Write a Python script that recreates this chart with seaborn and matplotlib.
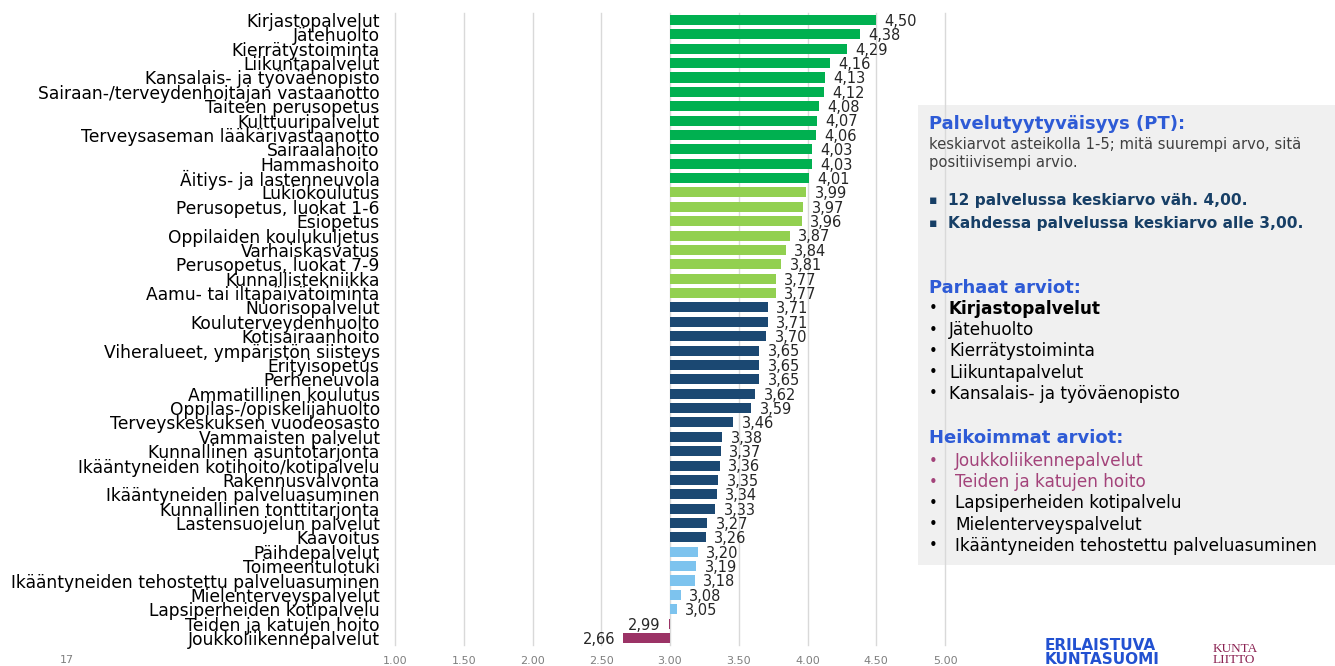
import numpy as np
import pandas as pd
import matplotlib
matplotlib.use("Agg")
import matplotlib.pyplot as plt
import seaborn as sns
from matplotlib.patches import Rectangle

# -----------------------------------------------------
# Data: palvelutyytyväisyys, keskiarvot asteikolla 1-5
# -----------------------------------------------------
services = [
    "Kirjastopalvelut", "Jätehuolto", "Kierrätystoiminta", "Liikuntapalvelut",
    "Kansalais- ja työväenopisto", "Sairaan-/terveydenhoitajan vastaanotto",
    "Taiteen perusopetus", "Kulttuuripalvelut", "Terveysaseman lääkärivastaanotto",
    "Sairaalahoito", "Hammashoito", "Äitiys- ja lastenneuvola",
    "Lukiokoulutus", "Perusopetus, luokat 1-6", "Esiopetus",
    "Oppilaiden koulukuljetus", "Varhaiskasvatus", "Perusopetus, luokat 7-9",
    "Kunnallistekniikka", "Aamu- tai iltapäivätoiminta",
    "Nuorisopalvelut", "Kouluterveydenhuolto", "Kotisairaanhoito",
    "Viheralueet, ympäristön siisteys", "Erityisopetus", "Perheneuvola",
    "Ammatillinen koulutus", "Oppilas-/opiskelijahuolto",
    "Terveyskeskuksen vuodeosasto", "Vammaisten palvelut",
    "Kunnallinen asuntotarjonta", "Ikääntyneiden kotihoito/kotipalvelu",
    "Rakennusvalvonta", "Ikääntyneiden palveluasuminen",
    "Kunnallinen tonttitarjonta", "Lastensuojelun palvelut", "Kaavoitus",
    "Päihdepalvelut", "Toimeentulotuki", "Ikääntyneiden tehostettu palveluasuminen",
    "Mielenterveyspalvelut", "Lapsiperheiden kotipalvelu",
    "Teiden ja katujen hoito", "Joukkoliikennepalvelut",
]
scores = [
    4.50, 4.38, 4.29, 4.16, 4.13, 4.12, 4.08, 4.07, 4.06, 4.03, 4.03, 4.01,
    3.99, 3.97, 3.96, 3.87, 3.84, 3.81, 3.77, 3.77,
    3.71, 3.71, 3.70, 3.65, 3.65, 3.65, 3.62, 3.59, 3.46, 3.38, 3.37, 3.36,
    3.35, 3.34, 3.33, 3.27, 3.26,
    3.20, 3.19, 3.18, 3.08, 3.05,
    2.99, 2.66,
]
groups = (["a"] * 12 + ["b"] * 8 + ["c"] * 17 + ["d"] * 5 + ["e"] * 2)
group_colors = {"a": "#00B050", "b": "#92D050", "c": "#1B4872",
                "d": "#7DC3EE", "e": "#9B3366"}
tick_values = [1.0, 1.5, 2.0, 2.5, 3.0, 3.5, 4.0, 4.5, 5.0]
base = 3.0

df = pd.DataFrame({"palvelu": services, "ka": scores, "ryhma": groups})
df["ero"] = df["ka"] - base

# -----------------------------------------------------
# Figure
# -----------------------------------------------------
W, H = 1335, 666
fig = plt.figure(figsize=(W / 100, H / 100), dpi=100)
fig.patch.set_facecolor("white")


def fx(x):
    return x / W


def fy(y):
    return 1 - y / H


ax = fig.add_axes([fx(395), fy(645.2), fx(550), (645.2 - 12.8) / H])
ax.set_facecolor("none")

sns.barplot(data=df, x="ero", y="palvelu", hue="ryhma", order=services,
            palette=group_colors, dodge=False, width=0.7, saturation=1,
            legend=False, ax=ax)

ax.set_xlim(tick_values[0] - base, tick_values[-1] - base)
ax.set_xticks([t - base for t in tick_values])
ax.set_xticklabels([f"{t:.2f}" for t in tick_values], color="#7F7F7F", fontsize=8)
ax.tick_params(axis="x", length=0, pad=8)
ax.tick_params(axis="y", length=0, pad=11, labelsize=12.3)
ax.set_xlabel("")
ax.set_ylabel("")
ax.grid(axis="x", color="#D9D9D9", lw=1)
ax.set_axisbelow(True)
for gl in ax.get_xgridlines():
    gl.set_clip_on(False)
for s in ax.spines.values():
    s.set_visible(False)

for i, (d, v) in enumerate(zip(df["ero"], df["ka"])):
    ax.annotate(f"{v:.2f}".replace(".", ","), xy=(d, i),
                xytext=(6 if d >= 0 else -6, -1), textcoords="offset points",
                ha="left" if d >= 0 else "right", va="center", fontsize=10.5,
                color="#262626")

# -----------------------------------------------------
# Info box
# -----------------------------------------------------
fig.add_artist(Rectangle((fx(918), fy(565)), fx(W - 918), (565 - 105) / H,
                         transform=fig.transFigure, facecolor="#F0F0F0",
                         edgecolor="none", zorder=-1))

blue = "#2E5BD6"
navy = "#173F66"
pink = "#A3437A"

fig.text(fx(929), fy(124), "Palvelutyytyväisyys (PT):", color=blue,
         fontsize=13, fontweight="bold", va="center")
fig.text(fx(929), fy(145), "keskiarvot asteikolla 1-5; mitä suurempi arvo, sitä",
         color="#404040", fontsize=10.6, va="center")
fig.text(fx(929), fy(163), "positiivisempi arvio.", color="#404040",
         fontsize=10.6, va="center")
for y, t in [(201, "12 palvelussa keskiarvo väh. 4,00."),
             (223, "Kahdessa palvelussa keskiarvo alle 3,00.")]:
    fig.text(fx(929), fy(y), "▪", color=navy, fontsize=9, va="center")
    fig.text(fx(948), fy(y), t, color=navy, fontsize=11.1, fontweight="bold",
             va="center")

fig.text(fx(929), fy(288), "Parhaat arviot:", color=blue, fontsize=13,
         fontweight="bold", va="center")
best = services[:5]
for k, name in enumerate(best):
    y = 309 + k * 21.2
    fig.text(fx(929), fy(y), "•", color="black", fontsize=10.5, va="center")
    fig.text(fx(949), fy(y), name, color="black", fontsize=12.2, va="center",
             fontweight="bold" if k == 0 else "normal")

fig.text(fx(929), fy(438), "Heikoimmat arviot:", color=blue, fontsize=13,
         fontweight="bold", va="center")
worst = services[::-1][:5]
for k, name in enumerate(worst):
    y = 461 + k * 21.2
    c = pink if k < 2 else "black"
    fig.text(fx(929), fy(y), "•", color=c, fontsize=10.5, va="center")
    fig.text(fx(955), fy(y), name, color=c, fontsize=12.2, va="center")

# -----------------------------------------------------
# Footer
# -----------------------------------------------------
fig.text(fx(60), fy(660), "17", color="#7F7F7F", fontsize=8, va="center")
fig.text(fx(1045), fy(646), "ERILAISTUVA", color="#2251D1", fontsize=11,
         fontweight="heavy", va="center")
fig.text(fx(1045), fy(659), "KUNTASUOMI", color="#2251D1", fontsize=11,
         fontweight="heavy", va="center")
fig.text(fx(1213), fy(649), "KUNTA", color="#8B2252", fontsize=9.5,
         family="Liberation Serif", va="center")
fig.text(fx(1213), fy(660), "LIITTO", color="#8B2252", fontsize=9.5,
         family="Liberation Serif", va="center")

fig.savefig("out.png", dpi=100)
